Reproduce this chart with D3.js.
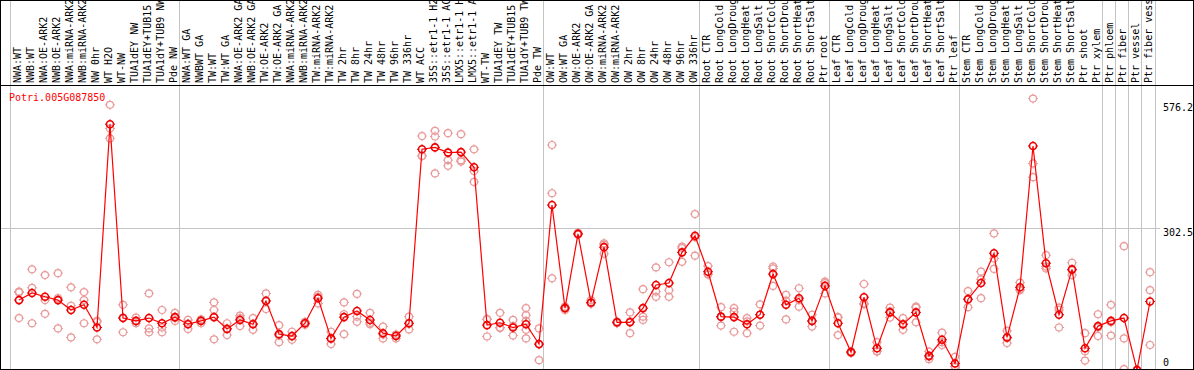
<!DOCTYPE html>
<html>
<head>
<meta charset="utf-8">
<script src="https://cdn.jsdelivr.net/npm/d3@7"></script>
<style>
  html, body { margin: 0; padding: 0; background: #fff; }
  svg { display: block; }
  text { font-family: "DejaVu Sans Mono", monospace; font-size: 10px; }
</style>
</head>
<body>
<div id="chart"></div>
<script>
// sample labels, left to right
var labels = [
    'NWA:WT', 'NWB:WT', 'NWA:OE-ARK2', 'NWB:OE-ARK2', 'NWA:miRNA-ARK2', 'NWB:miRNA-ARK2',
    'NW 0hr', 'WT H2O', 'WT-NW', 'TUA1dEY NW', 'TUA1dEY+TUB15 NW', 'TUA1dY+TUB9 NW', 'Pde NW',
    'NWA:WT GA', 'NWBWT GA', 'TW:WT', 'TW:WT GA', 'NWA:OE-ARK2 GA', 'NWB:OE-ARK2 GA',
    'TW:OE-ARK2', 'TW:OE-ARK2 GA', 'NWA:miRNA-ARK2 GA', 'NWB:miRNA-ARK2 GA', 'TW:miRNA-ARK2',
    'TW:miRNA-ARK2 GA', 'TW 2hr', 'TW 8hr', 'TW 24hr', 'TW 48hr', 'TW 96hr', 'TW 336hr',
    'WT ACC', '35S::etr1-1 H2O', '35S::etr1-1 ACC', 'LMX5::etr1-1 H2O', 'LMX5::etr1-1 ACC',
    'WT-TW', 'TUA1dEY TW', 'TUA1dEY+TUB15 TW', 'TUA1dY+TUB9 TW', 'Pde TW',
    'OW:WT', 'OW:WT GA', 'OW:OE-ARK2', 'OW:OE-ARK2 GA', 'OW:miRNA-ARK2', 'OW:miRNA-ARK2 GA',
    'OW 2hr', 'OW 8hr', 'OW 24hr', 'OW 48hr', 'OW 96hr', 'OW 336hr',
    'Root CTR', 'Root LongCold', 'Root LongDrought', 'Root LongHeat', 'Root LongSalt',
    'Root ShortCold', 'Root ShortDrought', 'Root ShortHeat', 'Root ShortSalt', 'Ptr root',
    'Leaf CTR', 'Leaf LongCold', 'Leaf LongDrought', 'Leaf LongHeat', 'Leaf LongSalt',
    'Leaf ShortCold', 'Leaf ShortDrought', 'Leaf ShortHeat', 'Leaf ShortSalt', 'Ptr leaf',
    'Stem CTR', 'Stem LongCold', 'Stem LongDrought', 'Stem LongHeat', 'Stem LongSalt',
    'Stem ShortCold', 'Stem ShortDrought', 'Stem ShortHeat', 'Stem ShortSalt', 'Ptr shoot',
    'Ptr xylem', 'Ptr phloem', 'Ptr fiber', 'Ptr vessel', 'Ptr fiber vessel'
];

// mean expression per sample
var means = [
    150, 165, 157, 150, 129, 140, 92, 522, 112, 106, 112, 101, 114,
    99, 106, 114, 89, 108, 99, 148, 78, 74, 101, 154, 69, 114, 127, 108, 80, 74, 101,
    469, 473, 462, 463, 431, 97, 102, 92, 99, 57,
    351, 133, 290, 145, 262, 103, 103, 133, 182, 186, 251, 286,
    210, 115, 114, 99, 119, 205, 140, 154, 106, 180,
    101, 40, 156, 48, 124, 99, 124, 32, 66, 16,
    152, 186, 249, 71, 177, 476, 228, 119, 215, 48,
    95, 106, 112, 2, 147
];

// replicate values per sample
var replicates = [
    [168, 166, 112], [215, 176, 101], [203, 150, 121], [207, 90, 154], [177, 138, 71],
    [167, 150, 101], [106, 104, 67], [563, 513, 492], [140, 82, 113], [113, 101, 105],
    [164, 90, 82], [129, 92, 82], [123, 106, 112],
    [108, 89, 100], [109, 101, 107], [145, 129, 67], [101, 76, 90], [117, 95, 112],
    [112, 87, 100], [164, 131, 149], [97, 61, 75], [83, 66, 73], [104, 98, 101],
    [161, 157, 143], [83, 57, 68], [145, 120, 78], [163, 115, 104], [123, 99, 102],
    [94, 69, 77], [76, 69, 77], [115, 88, 100],
    [497, 455, 455], [508, 496, 418], [503, 446, 434], [501, 446, 443], [469, 423, 400],
    [109, 73, 110], [123, 92, 91], [108, 75, 95], [133, 118, 106, 87, 69], [90, 23, 56],
    [478, 376, 196], [136, 129, 133], [292, 290, 288], [150, 143, 143], [270, 267, 248],
    [104, 101, 104], [124, 80, 105], [173, 115, 108], [219, 168, 157], [230, 171, 157],
    [263, 260, 231], [332, 244, 283],
    [222, 205, 204], [135, 96, 114], [133, 125, 83], [112, 80, 105], [141, 96, 119],
    [221, 217, 180], [161, 109, 149], [175, 136, 150], [119, 94, 105], [189, 186, 164],
    [114, 76, 113], [41, 38, 40], [184, 143, 141], [61, 41, 42], [134, 113, 126],
    [112, 87, 98], [134, 103, 136], [41, 25, 30], [81, 55, 61], [30, 9, 10],
    [169, 135, 151], [210, 194, 154], [291, 238, 216], [85, 59, 70], [187, 171, 173],
    [576.2, 439, 410], [245, 221, 217], [129, 92, 134], [229, 203, 213], [80, 22, 42],
    [120, 74, 92], [140, 75, 103], [264, 69, 4], [2, 3, 1], [209, 171, 55]
];

// last sample of each group (a separator is drawn after it)
var groupEnds = [12, 40, 52, 62, 72, 83, 84, 85, 86, 87];
var yTicks = [0, 302.5, 576.2];
var geneName = 'Potri.005G087850';

var W = 1194, H = 370;
var headerY = 85;

var svg = d3.select('#chart').append('svg')
    .attr('width', W)
    .attr('height', H);

var x = d3.scaleBand()
    .domain(d3.range(labels.length))
    .range([11, 1155]);
var px = function (i) { return x(i) + 8; };

var y = d3.scaleLinear()
    .domain([0, 576.2])
    .range([371, 98.6]);

var plot = svg.append('g');

// group separators
var seps = [-1].concat(groupEnds);
plot.selectAll('line.sep')
    .data(seps)
    .enter().append('line')
    .attr('class', 'sep')
    .attr('x1', function (d) { return x(d + 1) === undefined ? 1155.5 : x(d + 1) - 0.5; })
    .attr('x2', function (d) { return x(d + 1) === undefined ? 1155.5 : x(d + 1) - 0.5; })
    .attr('y1', 0)
    .attr('y2', H)
    .attr('stroke', '#c4c4c4')
    .attr('stroke-width', 1);

// middle gridline
plot.append('line')
    .attr('x1', 0).attr('x2', 1160)
    .attr('y1', Math.round(y(302.5)) + 0.5)
    .attr('y2', Math.round(y(302.5)) + 0.5)
    .attr('stroke', '#c4c4c4');

// clip the data area
svg.append('clipPath').attr('id', 'plotclip')
    .append('rect').attr('x', 0).attr('y', headerY + 1).attr('width', W).attr('height', 369 - headerY - 1);

var data = plot.append('g').attr('clip-path', 'url(#plotclip)');

function marker (sel, color, sw) {
    sel.append('circle')
        .attr('r', 3.5)
        .attr('fill', 'none')
        .attr('stroke', color)
        .attr('stroke-width', sw);
    sel.append('path')
        .attr('d', 'M0,-5V-3M0,3V5M-5,0H-3M3,0H5')
        .attr('stroke', color)
        .attr('stroke-width', 1);
}

// replicates
var repPts = [];
replicates.forEach(function (r, i) {
    r.forEach(function (v) { repPts.push({ i: i, v: v }); });
});
data.selectAll('g.rep')
    .data(repPts)
    .enter().append('g')
    .attr('class', 'rep')
    .attr('transform', function (d) { return 'translate(' + px(d.i) + ',' + y(d.v) + ')'; })
    .call(marker, '#e99a9a', 1.2);

// mean line
data.append('path')
    .datum(means)
    .attr('fill', 'none')
    .attr('stroke', '#ff0000')
    .attr('stroke-width', 1.2)
    .attr('d', d3.line()
        .x(function (d, i) { return px(i); })
        .y(function (d) { return y(d); }));

data.selectAll('g.mean')
    .data(means)
    .enter().append('g')
    .attr('class', 'mean')
    .attr('transform', function (d, i) { return 'translate(' + px(i) + ',' + y(d) + ')'; })
    .call(marker, '#ee0000', 1.6);

// sample labels
svg.append('g').selectAll('text')
    .data(labels)
    .enter().append('text')
    .attr('transform', function (d, i) { return 'translate(' + (px(i) + 2) + ',' + (headerY - 2) + ') rotate(-90)'; })
    .attr('fill', '#000')
    .text(function (d) { return d; });

// header rule and frame
svg.append('line')
    .attr('x1', 0).attr('x2', W)
    .attr('y1', headerY + 0.5).attr('y2', headerY + 0.5)
    .attr('stroke', '#000');
svg.append('rect')
    .attr('x', 0.5).attr('y', 0.5)
    .attr('width', W - 1).attr('height', 369)
    .attr('fill', 'none')
    .attr('stroke', '#000');

// right-side value labels
svg.append('g').selectAll('text')
    .data(yTicks)
    .enter().append('text')
    .attr('x', 1163)
    .attr('y', function (d) { return Math.max(111, Math.min(366, y(d) + 8.5)); })
    .attr('fill', '#000')
    .text(function (d) { return d; });

// gene name
svg.append('text')
    .attr('x', 9)
    .attr('y', 101)
    .attr('fill', '#ff0000')
    .text(geneName);
</script>
</body>
</html>
